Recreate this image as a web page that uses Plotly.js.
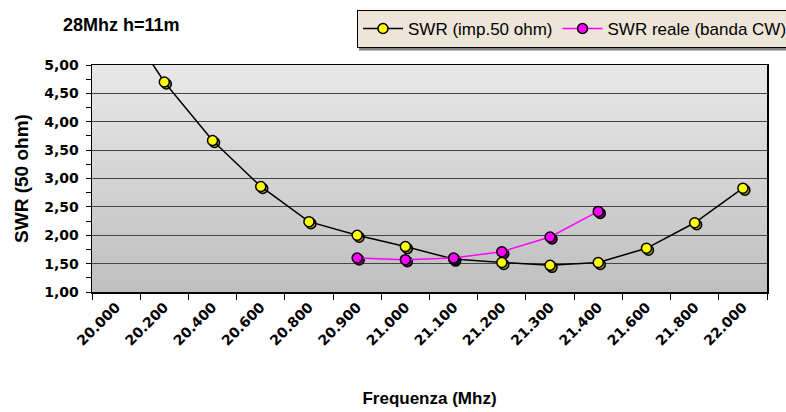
<!DOCTYPE html>
<html>
<head>
<meta charset="utf-8">
<script src="https://cdn.plot.ly/plotly-3.0.1.min.js"></script>
<style>html,body{margin:0;padding:0;background:#fff;}#chart{width:786px;height:412px;}</style>
</head>
<body>
<div id="chart"></div>
<script>
// Data
const categories = ['20.000','20.200','20.400','20.600','20.800','20.900','21.000','21.100','21.200','21.300','21.400','21.600','21.800','22.000'];
const swrImp50 = [6.00, 4.70, 3.67, 2.86, 2.24, 2.00, 1.80, 1.58, 1.52, 1.47, 1.52, 1.77, 2.22, 2.83];
const swrReale = [null, null, null, null, null, 1.60, 1.57, 1.60, 1.71, 1.97, 2.42, null, null, null];
const seriesNames = ['SWR (imp.50 ohm)', 'SWR reale (banda CW)'];
const yTitle = 'SWR (50 ohm)';
const xTitle = 'Frequenza (Mhz)';
const chartTitle = '28Mhz h=11m';

const W = 786, H = 412;
const L = 92, R = 19, T = 65, B = 120;
const plotW = W - L - R, plotH = H - T - B;
const yMin = 1, yMax = 5;
const shadowPx = 2;
const dxCat = shadowPx / (plotW / categories.length);
const dyVal = shadowPx / (plotH / (yMax - yMin));
const catRange = [-0.5, categories.length - 0.5];

const bold = 'Liberation Sans, Arial, sans-serif';
const tickFont = {family: 'DejaVu Sans, Verdana, sans-serif', size: 14, color: '#000', weight: 'bold'};

const grad = 'data:image/svg+xml;utf8,' + encodeURIComponent(
  '<svg xmlns="http://www.w3.org/2000/svg" width="10" height="100" preserveAspectRatio="none">' +
  '<defs><linearGradient id="g" x1="0" y1="0" x2="0" y2="1">' +
  '<stop offset="0" stop-color="#e8e8e8"/><stop offset="1" stop-color="#bfbfbf"/>' +
  '</linearGradient></defs><rect width="10" height="100" fill="url(#g)"/></svg>');

const markerBase = (fill) => ({symbol: 'circle', size: 10, color: fill, line: {color: '#000', width: 1.5}});

const traces = [
  // anchor trace for the visible axes (no visible marks)
  {x: categories, y: categories.map(() => null), type: 'scatter', mode: 'lines', showlegend: false, hoverinfo: 'skip'},
  // shadows (drawn first, on shifted overlay axes)
  {x: categories, y: swrImp50, type: 'scatter', mode: 'markers', xaxis: 'x2', yaxis: 'y2',
   marker: markerBase('#9a9a00'), showlegend: false, hoverinfo: 'skip'},
  {x: categories, y: swrReale, type: 'scatter', mode: 'markers', xaxis: 'x2', yaxis: 'y2',
   marker: markerBase('#800080'), showlegend: false, hoverinfo: 'skip'},
  // main series (on top overlay axes with the same scale as the visible axes)
  {x: categories, y: swrImp50, name: seriesNames[0], type: 'scatter', mode: 'lines+markers', xaxis: 'x3', yaxis: 'y3',
   line: {color: '#000', width: 1.5}, marker: markerBase('#ffff00')},
  {x: categories, y: swrReale, name: seriesNames[1], type: 'scatter', mode: 'lines+markers', xaxis: 'x3', yaxis: 'y3',
   line: {color: '#ff00ff', width: 1.5}, marker: markerBase('#ff00ff')}
];

const layout = {
  width: W, height: H,
  margin: {l: L, r: R, t: T, b: B},
  paper_bgcolor: '#fff',
  plot_bgcolor: 'rgba(0,0,0,0)',
  separators: ',.',
  title: {text: chartTitle, font: {family: bold, size: 18, color: '#000', weight: 'bold'},
          xref: 'container', yref: 'container', x: 63 / W, xanchor: 'left', y: 1 - 25 / H, yanchor: 'middle'},
  showlegend: true,
  legend: {orientation: 'h', xref: 'container', yref: 'container', x: 357 / W, xanchor: 'left',
           y: 1 - 10 / H, yanchor: 'top', bgcolor: '#ede6d8', bordercolor: '#000', borderwidth: 1,
           font: {family: 'Liberation Sans, Arial, sans-serif', size: 17, color: '#000'}, itemwidth: 40},
  xaxis: {type: 'category', categoryarray: categories, categoryorder: 'array', range: catRange,
          tickson: 'boundaries', ticks: 'outside', ticklen: 6, tickcolor: '#000', tickwidth: 1,
          showline: true, linecolor: '#000', linewidth: 1.5, mirror: true, showgrid: false, zeroline: false,
          tickangle: -45, tickfont: tickFont, fixedrange: true,
          title: {text: xTitle, font: {family: bold, size: 17, color: '#000', weight: 'bold'}, standoff: 44}},
  xaxis2: {type: 'category', categoryarray: categories, categoryorder: 'array', overlaying: 'x', anchor: 'y2',
           range: [catRange[0] - dxCat, catRange[1] - dxCat], visible: false},
  xaxis3: {type: 'category', categoryarray: categories, categoryorder: 'array', overlaying: 'x', anchor: 'y3',
           range: catRange, visible: false},
  xaxis4: {type: 'linear', overlaying: 'x', anchor: 'y', range: catRange,
           tickmode: 'array', tickvals: categories.map((c, i) => i), ticks: 'outside', ticklen: 6, tickcolor: '#000',
           showticklabels: false, showgrid: false, zeroline: false, showline: false},
  yaxis: {range: [yMin, yMax], dtick: 0.5, tick0: 1, tickformat: '.2f', ticks: 'outside', ticklen: 5,
          tickcolor: '#000', showline: true, linecolor: '#000', linewidth: 1.5, mirror: true,
          showgrid: true, gridcolor: '#454545', gridwidth: 1, zeroline: false, tickfont: tickFont,
          ticklabelstandoff: 4,
          minor: {dtick: 0.25, ticks: 'outside', ticklen: 5, tickcolor: '#000', showgrid: false},
          title: {text: yTitle, font: {family: bold, size: 19, color: '#000', weight: 'bold'}, standoff: 10}},
  yaxis2: {range: [yMin + dyVal, yMax + dyVal], overlaying: 'y', anchor: 'x2', visible: false},
  yaxis3: {range: [yMin, yMax], overlaying: 'y', anchor: 'x3', visible: false},
  images: [{source: grad, xref: 'paper', yref: 'paper', x: 0, y: 1, sizex: 1, sizey: 1,
            sizing: 'stretch', xanchor: 'left', yanchor: 'top', layer: 'below'}],
  shapes: [{type: 'line', xref: 'paper', yref: 'paper', x0: (359 - L) / plotW, x1: (W - L) / plotW,
            y0: (H - B - 49) / plotH, y1: (H - B - 49) / plotH, line: {color: '#808080', width: 3}}]
};

Plotly.newPlot('chart', traces, layout, {staticPlot: true, displayModeBar: false});
</script>
</body>
</html>
